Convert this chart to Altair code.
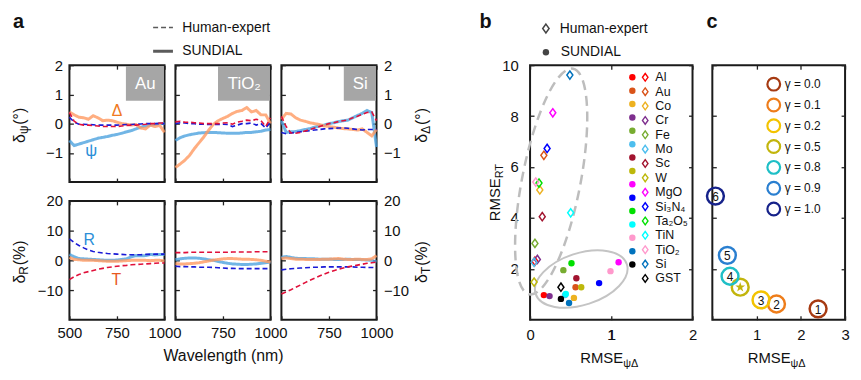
import altair as alt
import pandas as pd

FONT = "Liberation Sans"

# ---------------- panel a data ----------------
WAVELENGTH = [500, 525, 550, 575, 600, 625, 650, 675, 700, 725, 750,
              775, 800, 825, 850, 875, 900, 925, 950, 975, 1000]

AU_PSI_SUNDIAL = [-0.58, -0.75, -0.70, -0.65, -0.60, -0.55, -0.50, -0.47, -0.44, -0.40, -0.37, -0.33, -0.28, -0.24, -0.18, -0.12, -0.08, -0.05, -0.03, 0.00, 0.00]
AU_DELTA_SUNDIAL = [0.40, 0.30, 0.22, 0.20, 0.15, 0.27, 0.20, 0.10, 0.12, 0.10, 0.05, 0.00, -0.02, -0.05, -0.03, -0.15, -0.18, -0.05, -0.10, -0.06, -0.30]
AU_PSI_HUMAN = [0.22, 0.05, -0.02, -0.02, -0.03, -0.04, -0.05, -0.05, -0.05, -0.05, -0.05, -0.04, -0.03, -0.03, -0.02, -0.01, 0.00, 0.00, 0.00, 0.00, 0.00]
AU_DELTA_HUMAN = [0.38, 0.08, -0.02, -0.05, -0.05, -0.07, -0.08, -0.10, -0.10, -0.10, -0.10, -0.08, -0.06, -0.05, -0.05, -0.03, -0.02, 0.00, 0.00, 0.02, 0.02]
TIO2_PSI_SUNDIAL = [-0.58, -0.48, -0.42, -0.38, -0.35, -0.32, -0.31, -0.30, -0.30, -0.31, -0.32, -0.33, -0.33, -0.33, -0.32, -0.30, -0.30, -0.28, -0.26, -0.22, -0.20]
TIO2_DELTA_SUNDIAL = [-1.50, -1.38, -1.25, -1.08, -0.85, -0.65, -0.45, -0.22, -0.02, 0.10, 0.18, 0.25, 0.35, 0.42, 0.45, 0.55, 0.40, 0.45, 0.30, 0.30, 0.00]
TIO2_PSI_HUMAN = [0.00, 0.03, 0.02, 0.00, 0.00, -0.02, -0.02, -0.03, -0.03, -0.03, -0.02, -0.03, -0.10, -0.05, 0.00, 0.00, 0.02, -0.05, 0.00, -0.15, 0.05]
TIO2_DELTA_HUMAN = [0.06, 0.08, 0.05, 0.05, 0.03, 0.02, 0.00, 0.00, 0.00, 0.00, 0.02, 0.03, -0.02, 0.05, 0.08, 0.12, 0.10, 0.15, 0.10, -0.10, 0.20]
SI_PSI_SUNDIAL = [0.10, -0.30, -0.28, -0.27, -0.24, -0.20, -0.17, -0.12, -0.08, -0.05, 0.00, 0.03, 0.07, 0.10, 0.12, 0.20, 0.28, 0.35, 0.45, 0.38, -0.80]
SI_DELTA_SUNDIAL = [0.15, 0.35, 0.33, 0.20, 0.12, 0.08, 0.03, 0.00, -0.03, -0.08, -0.10, -0.12, -0.15, -0.17, -0.18, -0.20, -0.22, -0.18, -0.30, -0.42, -0.20]
SI_PSI_HUMAN = [-0.30, -0.35, -0.32, -0.30, -0.28, -0.26, -0.24, -0.22, -0.20, -0.18, -0.17, -0.16, -0.15, -0.15, -0.16, -0.18, -0.20, -0.22, -0.20, -0.20, -0.20]
SI_DELTA_HUMAN = [0.25, -0.10, -0.32, -0.33, -0.30, -0.25, -0.20, -0.15, -0.10, -0.05, 0.00, 0.03, 0.07, 0.10, 0.13, 0.20, 0.25, 0.32, 0.38, 0.40, 0.10]

AU_R_SUNDIAL = [2.0, 1.2, 0.6, 0.5, 0.4, 0.3, 0.2, 0.1, 0.0, 0.0, 0.1, 0.3, 0.5, 1.2, 1.6, 1.5, 1.6, 2.0, 1.8, 2.0, 2.0]
AU_T_SUNDIAL = [1.0, 0.3, 0.2, 0.0, 0.0, 0.0, -0.1, -0.2, -0.3, -0.3, -0.3, -0.2, -0.1, 0.0, 0.0, 0.0, 0.0, -0.1, 0.0, 0.0, -0.2]
AU_R_HUMAN = [7.2, 6.0, 5.0, 4.2, 3.5, 3.0, 2.7, 2.5, 2.3, 2.2, 2.1, 2.0, 1.9, 1.9, 1.9, 1.9, 2.0, 2.0, 2.1, 2.1, 2.1]
AU_T_HUMAN = [-6.5, -5.5, -4.8, -4.2, -3.8, -3.4, -3.0, -2.7, -2.4, -2.2, -2.0, -1.8, -1.7, -1.5, -1.4, -1.3, -1.2, -1.1, -1.0, -0.9, -0.9]
TIO2_R_SUNDIAL = [0.2, 0.5, 0.7, 0.8, 0.8, 0.7, 0.5, 0.2, 0.0, -0.4, -0.7, -1.0, -1.2, -1.3, -1.4, -1.4, -1.3, -1.2, -1.0, -0.8, -0.6]
TIO2_T_SUNDIAL = [-1.1, -1.2, -1.2, -1.1, -1.0, -0.8, -0.5, -0.2, 0.1, 0.3, 0.5, 0.6, 0.6, 0.5, 0.4, 0.4, 0.3, 0.2, 0.0, -0.3, -0.6]
TIO2_R_HUMAN = [-2.0, -2.1, -2.1, -2.2, -2.2, -2.3, -2.3, -2.3, -2.4, -2.5, -2.6, -2.7, -2.7, -2.8, -2.8, -2.8, -2.8, -2.8, -2.8, -2.8, -2.8]
TIO2_T_HUMAN = [2.6, 2.6, 2.6, 2.7, 2.7, 2.7, 2.7, 2.7, 2.7, 2.7, 2.7, 2.7, 2.8, 2.8, 2.8, 2.8, 2.8, 2.9, 2.9, 2.9, 2.9]
SI_R_SUNDIAL = [1.0, 1.3, 1.0, 0.7, 0.6, 0.6, 0.5, 0.5, 0.4, 0.4, 0.4, 0.3, 0.3, 0.3, 0.4, 0.3, 0.3, 0.2, 0.1, 0.0, -0.5]
SI_T_SUNDIAL = [0.6, 0.8, 0.6, 0.4, 0.4, 0.3, 0.3, 0.3, 0.3, 0.4, 0.4, 0.5, 0.6, 0.4, 0.3, 0.3, 0.4, 0.3, 0.3, 0.5, 1.6]
SI_R_HUMAN = [-3.2, -3.0, -2.8, -2.7, -2.6, -2.5, -2.4, -2.3, -2.3, -2.2, -2.2, -2.2, -2.2, -2.2, -2.2, -2.2, -2.3, -2.3, -2.4, -2.4, -2.5]
SI_T_HUMAN = [-11.3, -10.6, -9.9, -9.1, -8.3, -7.5, -6.7, -6.0, -5.3, -4.6, -4.0, -3.5, -3.0, -2.6, -2.2, -1.9, -1.6, -1.3, -1.0, -0.8, -0.6]

SAMPLES = ["Au", "TiO₂", "Si"]
BOX_START = [797, 724, 828]
METHODS = ["Human-expert", "SUNDIAL"]

# ---------------- panel b data ----------------
MATERIALS = ["Al", "Au", "Co", "Cr", "Fe", "Mo", "Sc", "W", "MgO", "Si₃N₄",
             "Ta₂O₅", "TiN", "TiO₂", "Si", "GST"]
MAT_COLORS = ["#FF0000", "#D95319", "#EDB120", "#7E2F8E", "#77AC30", "#4DBEEE",
              "#A2142F", "#BDB80B", "#FF00FF", "#0000FF", "#00E000", "#00FFFF",
              "#FF99CC", "#0072BD", "#000000"]
HUMAN_X = [0.06, 0.17, 0.12, 0.09, 0.06, 0.05, 0.15, 0.05, 0.28, 0.21, 0.11, 0.50, 0.07, 0.49, 0.38]
HUMAN_Y = [2.30, 6.46, 5.10, 2.37, 3.00, 2.26, 4.05, 1.48, 8.13, 6.73, 5.37, 4.20, 5.41, 9.61, 1.28]
SUNDIAL_X = [0.17, 0.56, 0.54, 0.24, 0.41, 0.43, 0.57, 0.63, 1.09, 0.85, 0.51, 0.44, 0.99, 0.48, 0.38]
SUNDIAL_Y = [0.97, 1.28, 0.86, 0.93, 1.95, 0.97, 1.63, 1.28, 2.26, 1.44, 2.22, 1.01, 1.91, 0.66, 0.82]
B_MID_TICK = [1]

# ---------------- panel c data ----------------
GAMMA_LABELS = ["γ = 0.0", "γ = 0.1", "γ = 0.2", "γ = 0.5", "γ = 0.8", "γ = 0.9", "γ = 1.0"]
GAMMA_MARKS = ["1", "2", "3", "★", "4", "5", "6"]
GAMMA_COLORS = ["#A63A12", "#EE7D1A", "#F3C300", "#C2B50C", "#1FBFC6", "#2A7FD0", "#16228A"]
GAMMA_X = [2.39, 1.45, 1.10, 0.63, 0.40, 0.34, 0.07]
GAMMA_Y = [0.43, 0.62, 0.78, 1.28, 1.71, 2.53, 4.86]

# ---------------- helpers ----------------
TICK = 4
ONE = pd.DataFrame({"k": [0]})
CW = {"δ": 0.556, "ψ": 0.712, "Δ": 0.668, "(": 0.333, ")": 0.333, "°": 0.4,
      "%": 0.889, " ": 0.278, "R": 0.722, "T": 0.611, "M": 0.833, "S": 0.667, "E": 0.667}


def tw(s, size):
    return sum(CW.get(c, 0.6) for c in s) * size


def axis_spec(orient, values, labels, label_expr=None, title=None, pad=6, title_pad=8,
              fmt="d", zindex=None):
    kw = dict(orient=orient, values=values, offset=-TICK, tickSize=TICK, tickWidth=1.3,
              tickColor="#222", domain=False, grid=False, labels=labels, labelFont=FONT,
              labelFontSize=15, labelColor="#111", labelPadding=pad, labelFlush=False,
              labelOverlap=False)
    if fmt is not None:
        kw["format"] = fmt
    if label_expr is not None:
        kw["labelExpr"] = label_expr
    if zindex is not None:
        kw["zindex"] = zindex
    if title is not None:
        kw.update(title=title, titleFont=FONT, titleFontSize=16, titleFontWeight="normal",
                  titleColor="#111", titlePadding=title_pad)
    else:
        kw["title"] = None
    return alt.Axis(**kw)


def txt(s, x, y, size=15, angle=0, align="left", color="#111", weight="normal"):
    mk = dict(text=s, font=FONT, fontSize=size, align=align, baseline="alphabetic",
              color=color, fontWeight=weight)
    if angle:
        mk["angle"] = angle
    return alt.Chart(ONE).mark_text(**mk).encode(x=alt.value(x), y=alt.value(y))


def vtitle(main, sub, rest, xb, yc, ms=16, ss=12, shift=3):
    wm, ws, wr = tw(main, ms), tw(sub, ss), tw(rest, ms)
    y0 = yc + (wm + ws + wr) / 2
    j1 = y0 - wm
    out = [txt(main, xb, j1, ms, 270, "right"), txt(sub, xb + shift, j1, ss, 270, "left")]
    if rest:
        out.append(txt(rest, xb, j1 - ws - 1, ms, 270, "left"))
    return out


def htitle(main, sub, jx, yb, ms=15, ss=11, drop=4):
    return [txt(main, jx, yb, ms, 0, "right"), txt(sub, jx, yb + drop, ss, 0, "left")]


S_BLUE, S_ORANGE, H_BLUE, H_RED = "#4DA3DF", "#FF9A62", "#1A1AD6", "#E0103A"
COLOR_KEYS = ["ψ SUNDIAL", "Δ SUNDIAL", "ψ Human-expert", "Δ Human-expert",
              "R SUNDIAL", "T SUNDIAL", "R Human-expert", "T Human-expert"]
COLOR_VALUES = [S_BLUE, S_ORANGE, H_BLUE, H_RED, S_BLUE, S_ORANGE, H_BLUE, H_RED]
COLOR_SCALE = alt.Scale(domain=COLOR_KEYS, range=COLOR_VALUES)
DASH_SCALE = alt.Scale(domain=METHODS, range=[[5, 3], [1, 0]])
WIDTH_SCALE = alt.Scale(domain=METHODS, range=[1.6, 3.0])

A_SERIES = {
    (0, 0): [("ψ", AU_PSI_SUNDIAL, AU_PSI_HUMAN), ("Δ", AU_DELTA_SUNDIAL, AU_DELTA_HUMAN)],
    (0, 1): [("ψ", TIO2_PSI_SUNDIAL, TIO2_PSI_HUMAN), ("Δ", TIO2_DELTA_SUNDIAL, TIO2_DELTA_HUMAN)],
    (0, 2): [("ψ", SI_PSI_SUNDIAL, SI_PSI_HUMAN), ("Δ", SI_DELTA_SUNDIAL, SI_DELTA_HUMAN)],
    (1, 0): [("R", AU_R_SUNDIAL, AU_R_HUMAN), ("T", AU_T_SUNDIAL, AU_T_HUMAN)],
    (1, 1): [("R", TIO2_R_SUNDIAL, TIO2_R_HUMAN), ("T", TIO2_T_SUNDIAL, TIO2_T_HUMAN)],
    (1, 2): [("R", SI_R_SUNDIAL, SI_R_HUMAN), ("T", SI_T_SUNDIAL, SI_T_HUMAN)],
}


def a_sub(row, col):
    upper = row == 0
    ydom = [-2, 2] if upper else [-20, 20]
    yvals = [-1, 0, 1, 2] if upper else [-10, 0, 10, 20]
    h = 118 if upper else 120
    xs = alt.Scale(domain=[500, 1000], nice=False, zero=False)
    ys = alt.Scale(domain=ydom, nice=False, zero=False)
    rows_s, rows_h = [], []
    for name, sund, hum in A_SERIES[(row, col)]:
        for w, v in zip(WAVELENGTH, sund):
            rows_s.append({"wl": w, "val": v, "key": f"{name} SUNDIAL", "method": "SUNDIAL"})
        for w, v in zip(WAVELENGTH, hum):
            rows_h.append({"wl": w, "val": v, "key": f"{name} Human-expert", "method": "Human-expert"})
    df_s, df_h = pd.DataFrame(rows_s), pd.DataFrame(rows_h)

    xlabels = not upper
    xexpr = None if (col == 0 or upper) else "datum.value == 500 ? '' : datum.label"
    xtitle = "Wavelength (nm)" if (not upper and col == 1) else None
    x_axis = axis_spec("bottom", [500, 750, 1000], xlabels, xexpr, xtitle, pad=6, title_pad=7)
    y_axis = axis_spec("left", yvals, col == 0, pad=7)
    if row == 0 and col == 0:
        leg = alt.Legend(orient="none", legendX=83, legendY=-49, title=None, symbolType="stroke",
                         symbolSize=400, symbolStrokeColor="#333", symbolStrokeWidth=2.2,
                         labelFont=FONT, labelFontSize=14, labelColor="#111", rowPadding=2,
                         clipHeight=22, labelOffset=8, padding=0)
    else:
        leg = None

    s_layer = alt.Chart(df_s).mark_line(opacity=0.8).encode(
        x=alt.X("wl:Q", scale=xs, axis=x_axis),
        y=alt.Y("val:Q", scale=ys, axis=y_axis),
        color=alt.Color("key:N", scale=COLOR_SCALE, legend=None),
        strokeDash=alt.StrokeDash("method:N", scale=DASH_SCALE, legend=leg),
        strokeWidth=alt.StrokeWidth("method:N", scale=WIDTH_SCALE, legend=None),
    )
    h_layer = alt.Chart(df_h).mark_line().encode(
        x=alt.X("wl:Q", scale=xs, axis=None),
        y=alt.Y("val:Q", scale=ys, axis=None),
        color=alt.Color("key:N", scale=COLOR_SCALE, legend=None),
        strokeDash=alt.StrokeDash("method:N", scale=DASH_SCALE, legend=leg),
        strokeWidth=alt.StrokeWidth("method:N", scale=WIDTH_SCALE, legend=None),
    )
    layers = [s_layer, h_layer]

    if upper:
        start = BOX_START[col]
        box = pd.DataFrame({"x0": [start], "x1": [997], "y0": [0.78], "y1": [1.97],
                            "xc": [(start + 1000) / 2], "yc": [1.37], "lab": [SAMPLES[col]]})
        layers.append(alt.Chart(box).mark_rect(color="#A6A6A6").encode(
            x=alt.X("x0:Q", scale=xs, axis=None), x2="x1",
            y=alt.Y("y0:Q", scale=ys, axis=None), y2="y1"))
        layers.append(alt.Chart(box).mark_text(color="white", fontSize=17, font=FONT,
                                               baseline="middle").encode(
            x=alt.X("xc:Q", scale=xs, axis=None), y=alt.Y("yc:Q", scale=ys, axis=None),
            text="lab:N"))

    if col == 0:
        if upper:
            notes = [("Δ", 750, 0.42, "#F07A1E", 16), ("ψ", 615, -0.95, "#2C8FD8", 17)]
        else:
            notes = [("R", 604, 6.7, "#2C8FD8", 16), ("T", 747, -6.7, "#E8581E", 16)]
        for s, xv, yv, colr, sz in notes:
            nd = pd.DataFrame({"x": [xv], "y": [yv], "t": [s]})
            layers.append(alt.Chart(nd).mark_text(color=colr, fontSize=sz, font=FONT,
                                                  baseline="middle").encode(
                x=alt.X("x:Q", scale=xs, axis=None), y=alt.Y("y:Q", scale=ys, axis=None),
                text="t:N"))
        if upper:
            layers += vtitle("δ", "ψ", " (°)", -45, h / 2)
            layers.append(txt("a", -57, -38, 20, weight="bold"))
        else:
            layers += vtitle("δ", "R", " (%)", -45, h / 2)
    if col == 2:
        if upper:
            layers += vtitle("δ", "Δ", " (°)", 147, h / 2)
        else:
            layers += vtitle("δ", "T", " (%)", 147, h / 2)

    corner = pd.DataFrame({"wl": [500], "val": [0]})
    layers.append(alt.Chart(corner).mark_point(opacity=0).encode(
        x=alt.X("wl:Q", scale=xs, axis=axis_spec("top", [500, 750, 1000], False)),
        y=alt.Y("val:Q", scale=ys, axis=axis_spec("right", yvals, col == 2, pad=7)),
    ))
    return alt.layer(*layers).resolve_axis(x="independent", y="independent").properties(
        width=96, height=h)


A_grid = alt.concat(*[a_sub(r, c) for r in range(2) for c in range(3)], columns=3,
                    spacing={"row": 19, "column": 11}, bounds="flush").resolve_scale(
    color="independent", strokeDash="independent", strokeWidth="independent")

# ---------------- panel b ----------------
DIAMOND = "M0,-1L0.72,0L0,1L-0.72,0Z"
STAR = ("M0,-1L0.2245,-0.309L0.951,-0.309L0.363,0.118L0.588,0.809L0,0.382L-0.588,0.809"
        "L-0.363,0.118L-0.951,-0.309L-0.2245,-0.309Z")


def ellipse_path(r):
    k = 0.5523
    return (f"M0,-1C{k*r:.4f},-1 {r:.4f},{-k:.4f} {r:.4f},0"
            f"C{r:.4f},{k:.4f} {k*r:.4f},1 0,1"
            f"C{-k*r:.4f},1 {-r:.4f},{k:.4f} {-r:.4f},0"
            f"C{-r:.4f},{-k:.4f} {-k*r:.4f},-1 0,-1Z")


BW, BH = 164, 257
bx = alt.Scale(domain=[0, 2], nice=False, zero=False)
by = alt.Scale(domain=[0, 10], nice=False, zero=False)
NUM_EXPR = "'' + datum.value"

ell1 = alt.Chart(pd.DataFrame({"x": [0.26], "y": [5.43]})).mark_point(
    shape=ellipse_path(0.254), size=53824, angle=11, filled=False, stroke="#BDBDBD",
    strokeWidth=2.5, strokeDash=[10, 6], opacity=1).encode(
    x=alt.X("x:Q", scale=bx, axis=axis_spec("top", [0, 1, 2], False, fmt=None)),
    y=alt.Y("y:Q", scale=by, axis=axis_spec("left", [2, 4, 6, 8, 10], True, NUM_EXPR, pad=12,
                                            fmt=None)))
ell2 = alt.Chart(pd.DataFrame({"x": [0.63], "y": [1.60]})).mark_point(
    shape=ellipse_path(0.54), size=9370, angle=72, filled=False, stroke="#C4C4C4",
    strokeWidth=2, opacity=1).encode(
    x=alt.X("x:Q", scale=bx, axis=None), y=alt.Y("y:Q", scale=by, axis=None))

b_s = pd.DataFrame({"x": SUNDIAL_X, "y": SUNDIAL_Y, "mat": MATERIALS, "method": "SUNDIAL"})
b_h = pd.DataFrame({"x": HUMAN_X, "y": HUMAN_Y, "mat": MATERIALS, "method": "Human-expert"})

pts_s = alt.Chart(b_s).mark_point(filled=True, opacity=1, strokeWidth=0).encode(
    x=alt.X("x:Q", scale=bx, axis=None), y=alt.Y("y:Q", scale=by, axis=None),
    fill=alt.Fill("mat:N", sort=MATERIALS, scale=alt.Scale(range=MAT_COLORS),
                  legend=alt.Legend(orient="none", legendX=97, legendY=6, title=None,
                                    symbolType="circle", symbolSize=42, symbolStrokeWidth=0,
                                    labelExpr="''", labelFont=FONT, labelFontSize=12.5,
                                    rowPadding=0.5, padding=0)),
    size=alt.Size("method:N", scale=alt.Scale(type="ordinal", domain=["SUNDIAL"], range=[42]),
                  legend=alt.Legend(orient="none", legendX=9, legendY=-20, title=None,
                                    symbolType="circle", symbolFillColor="#444",
                                    symbolStrokeColor="#444", symbolStrokeWidth=0,
                                    labelFont=FONT, labelFontSize=14, labelColor="#111",
                                    labelOffset=8, padding=0)),
)
pts_h = alt.Chart(b_h).mark_point(filled=False, size=70, opacity=1, strokeWidth=1.5).encode(
    x=alt.X("x:Q", scale=bx, axis=None), y=alt.Y("y:Q", scale=by, axis=None),
    stroke=alt.Stroke("mat:N", scale=alt.Scale(domain=MATERIALS, range=MAT_COLORS),
                      legend=alt.Legend(orient="none", legendX=110, legendY=6, title=None,
                                        symbolType=DIAMOND, symbolSize=60, symbolStrokeWidth=1.4,
                                        symbolFillColor="transparent",
                                        labelFont=FONT, labelFontSize=12.5, labelColor="#111",
                                        labelOffset=4, rowPadding=0.5, padding=0)),
    shape=alt.Shape("method:N", scale=alt.Scale(domain=["Human-expert"], range=[DIAMOND]),
                    legend=alt.Legend(orient="none", legendX=9, legendY=-44, title=None,
                                      symbolSize=80, symbolStrokeWidth=1.5,
                                      symbolStrokeColor="#444", symbolFillColor="transparent",
                                      labelFont=FONT, labelFontSize=14, labelColor="#111",
                                      labelOffset=7, padding=0)),
)
b_ticks = alt.Chart(pd.DataFrame({"x": [0.0], "y": [0.0]})).mark_point(opacity=0).encode(
    x=alt.X("x:Q", scale=bx, axis=axis_spec("bottom", [0, 1, 2], True, NUM_EXPR, pad=8,
                                             fmt=None, zindex=2)),
    y=alt.Y("y:Q", scale=by, axis=axis_spec("right", [2, 4, 6, 8, 10], False, fmt=None)))
b_mid = alt.Chart(pd.DataFrame({"x": B_MID_TICK, "t": [str(v) for v in B_MID_TICK]})).mark_text(
    font=FONT, fontSize=15, color="#111", baseline="top", align="center").encode(
    x=alt.X("x:Q", scale=bx, axis=None), y=alt.value(BH + 8), text="t:N")

b_layers = [ell1, ell2, pts_s, pts_h, b_mid]
b_layers += vtitle("RMSE", "RT", "", -30, BH / 2, ms=15, ss=11)
b_layers += htitle("RMSE", "ψΔ", BW / 2 + 12, BH + 44)
b_layers.append(txt("b", -51, -38, 20, weight="bold"))
b_layers.append(b_ticks)
B = alt.layer(*b_layers).resolve_axis(x="independent", y="independent").properties(
    width=BW, height=BH)

# ---------------- panel c ----------------
CWID = 134
cx = alt.Scale(domain=[0, 3], nice=False, zero=False)
cy = alt.Scale(domain=[0, 10], nice=False, zero=False)
c_df = pd.DataFrame({"x": GAMMA_X, "y": GAMMA_Y, "g": GAMMA_LABELS, "num": GAMMA_MARKS})
c_df["sz"] = 290
g_scale = alt.Scale(domain=GAMMA_LABELS, range=GAMMA_COLORS)

c_circ = alt.Chart(c_df).mark_point(filled=False, strokeWidth=2.5, opacity=1).encode(
    x=alt.X("x:Q", scale=cx, axis=axis_spec("bottom", [0, 1, 2, 3], True,
                                             "datum.value == 0 ? '' : '' + datum.value",
                                             pad=8, fmt=None)),
    y=alt.Y("y:Q", scale=cy, axis=axis_spec("left", [2, 4, 6, 8, 10], False, fmt=None)),
    size=alt.Size("sz:Q", scale=None, legend=None),
    stroke=alt.Stroke("g:N", scale=g_scale,
                      legend=alt.Legend(orient="none", legendX=54, legendY=10, title=None,
                                        symbolType="circle", symbolSize=165,
                                        symbolStrokeWidth=2.2, symbolFillColor="transparent",
                                        labelFont=FONT, labelFontSize=12, labelColor="#111",
                                        labelOffset=3, rowPadding=2, clipHeight=18.3,
                                        padding=0)),
)
c_num = alt.Chart(c_df).transform_filter("datum.num != '★'").mark_text(
    fontSize=12, font=FONT, color="#111", baseline="middle", dy=1).encode(
    x=alt.X("x:Q", scale=cx, axis=None), y=alt.Y("y:Q", scale=cy, axis=None), text="num:N")
c_star = alt.Chart(c_df).transform_filter("datum.num == '★'").mark_point(
    shape=STAR, filled=True, size=110, opacity=1, strokeWidth=0,
    color=GAMMA_COLORS[3]).encode(
    x=alt.X("x:Q", scale=cx, axis=None), y=alt.Y("y:Q", scale=cy, axis=None))
c_ticks = alt.Chart(pd.DataFrame({"x": [0], "y": [0]})).mark_point(opacity=0).encode(
    x=alt.X("x:Q", scale=cx, axis=axis_spec("top", [0, 1, 2, 3], False, fmt=None)),
    y=alt.Y("y:Q", scale=cy, axis=axis_spec("right", [2, 4, 6, 8, 10], False, fmt=None)))

c_layers = [c_circ, c_num, c_star]
c_layers += htitle("RMSE", "ψΔ", CWID / 2 + 12, BH + 44)
c_layers.append(txt("c", -6, -38, 20, weight="bold"))
c_layers.append(c_ticks)
C = alt.layer(*c_layers).resolve_axis(x="independent", y="independent").properties(
    width=CWID, height=BH)

BC = alt.hconcat(B, C, spacing=20, bounds="flush").resolve_scale(
    fill="independent", stroke="independent", shape="independent", size="independent")

chart = alt.hconcat(A_grid, BC, spacing=46).resolve_scale(
    color="independent", strokeDash="independent", strokeWidth="independent",
    fill="independent", stroke="independent", shape="independent", size="independent",
).properties(padding={"left": 2, "top": 1, "right": 2, "bottom": 2}).configure_view(
    stroke="#1a1a1a", strokeWidth=2)

chart.save("out.html", embed_options={"renderer": "svg", "actions": False})
